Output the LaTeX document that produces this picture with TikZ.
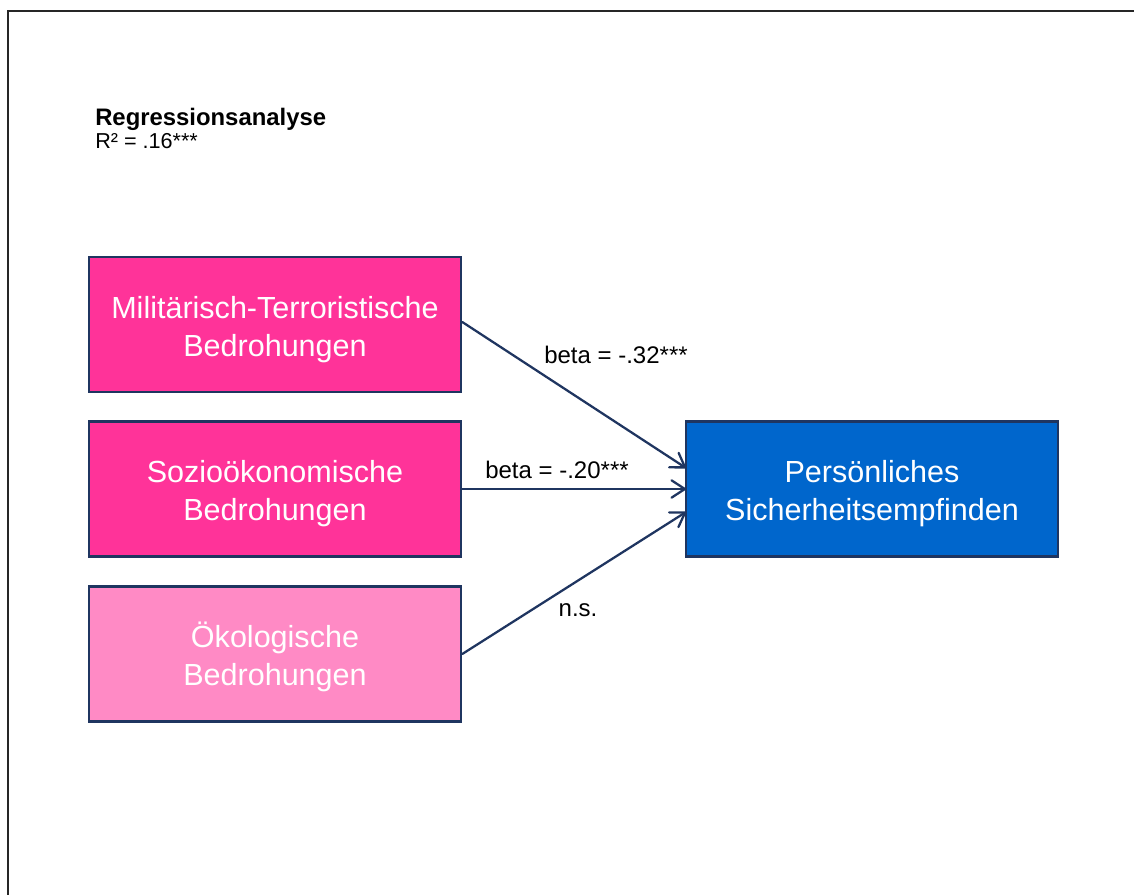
\documentclass[tikz,border=0pt]{standalone}
\usepackage{fontspec}
\setmainfont{Liberation Sans}
\usetikzlibrary{arrows.meta}
\definecolor{pinkA}{HTML}{FF3399}
\definecolor{pinkB}{HTML}{FF8AC5}
\definecolor{blueT}{HTML}{0066CC}
\definecolor{navy}{HTML}{1F3560}
\newcommand{\boxtxt}[1]{\raisebox{-3.7pt}[\height][\depth]{\begin{tabular}{@{}c@{}}#1\end{tabular}}}
\tikzset{
  x=0.75pt, y=-0.75pt,
  boxstyle/.style={draw=navy, line width=1.9pt, minimum width=279pt, minimum height=101.5pt,
    text=white, align=center, font=\fontsize{22.9}{28.5}\selectfont, inner sep=0pt},
  conn/.style={draw=navy, line width=1.7pt, line cap=round,
    -{Straight Barb[length=10pt,width=13pt,line width=1.7pt,round]}},
  lbl/.style={font=\fontsize{18}{21}\selectfont, inner sep=0pt}
}
\begin{document}
\begin{tikzpicture}
\useasboundingbox (0,0) rectangle (1134,895);
\draw[line width=1.1pt, black!85] (8,895) -- (8,11) -- (1134,11);
\node[anchor=west, font=\fontsize{17.9}{20}\bfseries\selectfont, inner sep=0pt] (title) at (95,119) {Regressionsanalyse};
\node[anchor=west, font=\fontsize{16.2}{18}\selectfont, inner sep=0pt] (rsq) at (95,141) {R² = .16***};
\node[boxstyle, fill=pinkA] (m) at (275,324.5) {\boxtxt{Militärisch-Terroristische\\Bedrohungen}};
\node[boxstyle, fill=pinkA] (s) at (275,489) {\boxtxt{Sozioökonomische\\Bedrohungen}};
\node[boxstyle, fill=pinkB] (o) at (275,654) {\boxtxt{Ökologische\\Bedrohungen}};
\node[boxstyle, fill=blueT] (p) at (872,489) {\boxtxt{Persönliches\\Sicherheitsempfinden}};
\coordinate (pm) at (686,468);
\coordinate (ps) at (686,489);
\coordinate (po) at (686,512);
\draw[conn] (m.east |- 0,322) -- (pm);
\draw[conn] (s.east) -- (ps);
\draw[conn] (o.east) -- (po);
\node[lbl] (l1) at (616,355) {beta = -.32***};
\node[lbl] (l2) at (557,470) {beta = -.20***};
\node[lbl] (l3) at (578,610) {n.s.};
\end{tikzpicture}
\end{document}
